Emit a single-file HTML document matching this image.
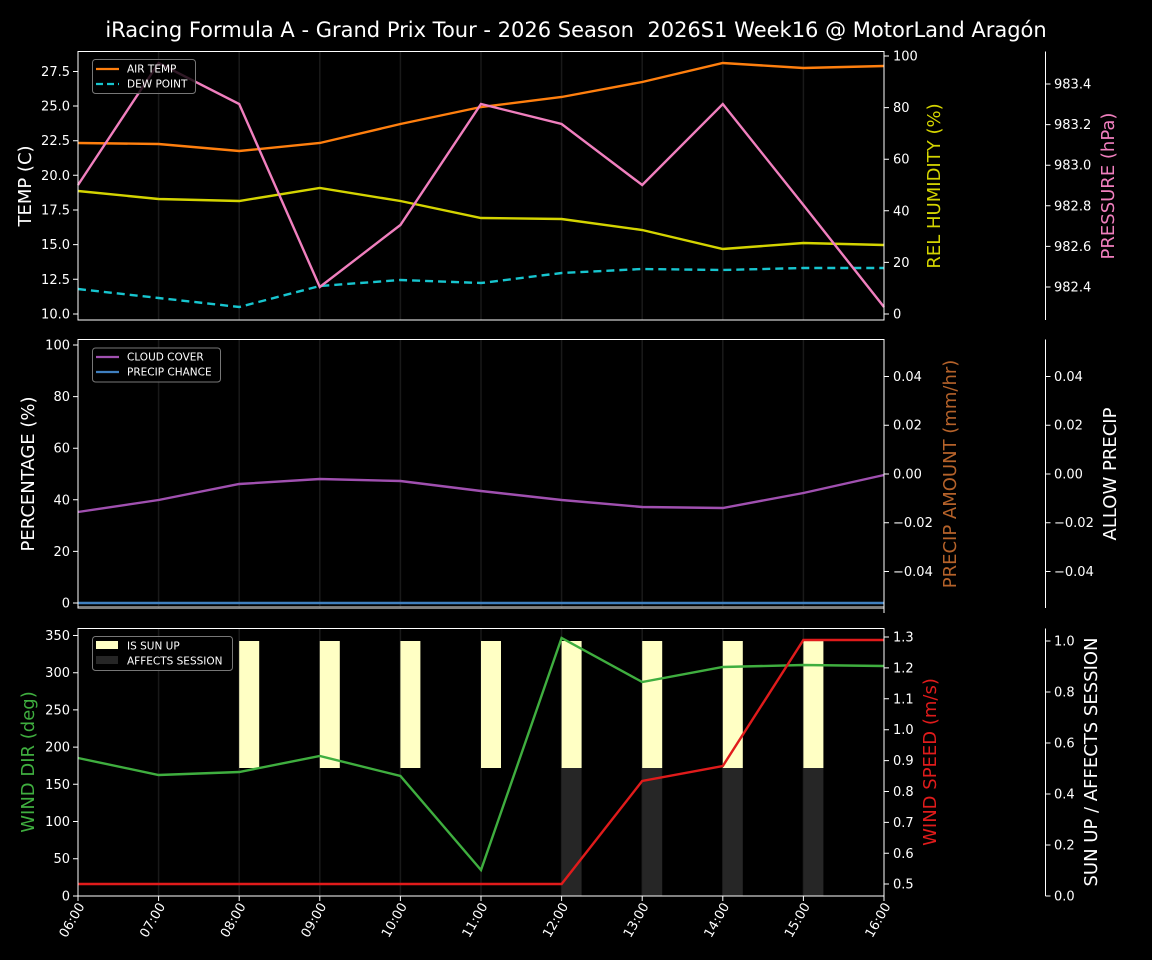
<!DOCTYPE html>
<html><head><meta charset="utf-8"><style>
html,body{margin:0;padding:0;background:#000;}
svg{display:block;font-family:"DejaVu Sans","Liberation Sans",sans-serif;}
</style></head><body>
<svg width="1152" height="960" viewBox="0 0 1152 960" xmlns="http://www.w3.org/2000/svg">
<rect width="1152" height="960" fill="#000"/>
<text x="576" y="37" fill="#fff" font-size="21" text-anchor="middle" xml:space="preserve">iRacing Formula A - Grand Prix Tour - 2026 Season&#160; 2026S1 Week16 @ MotorLand Aragón</text>

<!-- grid lines -->
<g stroke="#2a2a2a" stroke-width="1.5" opacity="0.6">
<path d="M158.6 51V320M239.2 51V320M319.8 51V320M400.4 51V320M481 51V320M561.6 51V320M642.2 51V320M722.8 51V320M803.4 51V320"/>
<path d="M158.6 339V608M239.2 339V608M319.8 339V608M400.4 339V608M481 339V608M561.6 339V608M642.2 339V608M722.8 339V608M803.4 339V608"/>
<path d="M158.6 628V896M239.2 628V896M319.8 628V896M400.4 628V896M481 628V896M561.6 628V896M642.2 628V896M722.8 628V896M803.4 628V896"/>
</g>

<!-- PANEL 1 -->
<g fill="none" stroke-width="2.4">
<polyline stroke="#ff7f0e" points="78,143 158.6,144 239.2,151 319.8,143 400.4,124 481,107 561.6,97 642.2,82 722.8,63 803.4,68 884,66"/>
<polyline stroke="#d4d400" points="78,191 158.6,199 239.2,201 319.8,188 400.4,201 481,218 561.6,219 642.2,230 722.8,249 803.4,243 884,245"/>
<polyline stroke="#17c5cf" stroke-dasharray="8,5" points="78,289 158.6,298 239.2,307 319.8,286 400.4,280 481,283 561.6,273 642.2,269 722.8,270 803.4,268 884,268"/>
<polyline stroke="#f07fbe" points="78,185 158.6,63 239.2,104 319.8,287 400.4,225 481,104 561.6,124 642.2,185 722.8,104 803.4,205 884,307"/>
</g>
<rect x="78" y="51.5" width="806" height="268.5" fill="none" stroke="#fff" stroke-width="1"/>
<g stroke="#fff" stroke-width="1">
<path d="M73 71.5H78M73 106H78M73 140.7H78M73 175.3H78M73 210H78M73 244.6H78M73 279.3H78M73 314H78"/>
<path d="M884 56H889M884 107.6H889M884 159.2H889M884 210.8H889M884 262.4H889M884 314H889"/>
<path d="M1045.5 51.5V320M1045.5 84H1050.5M1045.5 124.6H1050.5M1045.5 165.2H1050.5M1045.5 205.8H1050.5M1045.5 246.4H1050.5M1045.5 287H1050.5"/>
</g>
<g fill="#fff" font-size="13" text-anchor="end">
<text x="70" y="76">27.5</text><text x="70" y="110.5">25.0</text><text x="70" y="145.2">22.5</text><text x="70" y="179.8">20.0</text><text x="70" y="214.5">17.5</text><text x="70" y="249.1">15.0</text><text x="70" y="283.8">12.5</text><text x="70" y="318.5">10.0</text>
</g>
<g fill="#fff" font-size="13">
<text x="893" y="60.5">100</text><text x="893" y="112">80</text><text x="893" y="163.7">60</text><text x="893" y="215.3">40</text><text x="893" y="266.9">20</text><text x="893" y="318.5">0</text>
<text x="1054" y="88.5">983.4</text><text x="1054" y="129">983.2</text><text x="1054" y="169.7">983.0</text><text x="1054" y="210.3">982.8</text><text x="1054" y="250.9">982.6</text><text x="1054" y="291.5">982.4</text>
</g>
<text transform="translate(31,186) rotate(-90)" fill="#fff" font-size="18" text-anchor="middle">TEMP (C)</text>
<text transform="translate(940,186) rotate(-90)" fill="#d4d400" font-size="18" text-anchor="middle">REL HUMIDITY (%)</text>
<text transform="translate(1114,186) rotate(-90)" fill="#f07fbe" font-size="18" text-anchor="middle">PRESSURE (hPa)</text>
<rect x="92.5" y="59.5" width="103" height="34" rx="3" fill="#000" fill-opacity="0.8" stroke="#777"/>
<path d="M96 69H119" stroke="#ff7f0e" stroke-width="2.2"/>
<path d="M96 84H119" stroke="#17c5cf" stroke-width="2.2" stroke-dasharray="7,4"/>
<g fill="#fff" font-size="10.5"><text x="127" y="72.5">AIR TEMP</text><text x="127" y="87.5">DEW POINT</text></g>

<!-- PANEL 2 -->
<polyline fill="none" stroke="#a050b0" stroke-width="2.4" points="78,512 158.6,500 239.2,484 319.8,479 400.4,481 481,491 561.6,500 642.2,507 722.8,508 803.4,493 884,475"/>
<path d="M78 603H884" stroke="#3f7fbf" stroke-width="2.4"/>
<path d="M78 606.5H884" stroke="#777" stroke-width="1"/>
<rect x="78" y="339.5" width="806" height="268.5" fill="none" stroke="#fff" stroke-width="1"/>
<g stroke="#fff" stroke-width="1">
<path d="M73 345H78M73 396.6H78M73 448.2H78M73 499.8H78M73 551.4H78M73 603H78"/>
<path d="M884 376.5H889M884 425.2H889M884 474H889M884 522.7H889M884 571.5H889M884 608V613"/>
<path d="M1045.5 339.5V608M1045.5 376.5H1050.5M1045.5 425.2H1050.5M1045.5 474H1050.5M1045.5 522.7H1050.5M1045.5 571.5H1050.5"/>
</g>
<g fill="#fff" font-size="13" text-anchor="end">
<text x="70" y="349.5">100</text><text x="70" y="401">80</text><text x="70" y="452.7">60</text><text x="70" y="504.3">40</text><text x="70" y="555.9">20</text><text x="70" y="607.5">0</text>
</g>
<g fill="#fff" font-size="13">
<text x="893" y="381">0.04</text><text x="893" y="429.7">0.02</text><text x="893" y="478.5">0.00</text><text x="893" y="527.2">−0.02</text><text x="893" y="576">−0.04</text>
<text x="1054" y="381">0.04</text><text x="1054" y="429.7">0.02</text><text x="1054" y="478.5">0.00</text><text x="1054" y="527.2">−0.02</text><text x="1054" y="576">−0.04</text>
</g>
<text transform="translate(34,474) rotate(-90)" fill="#fff" font-size="18" text-anchor="middle">PERCENTAGE (%)</text>
<text transform="translate(956,474) rotate(-90)" fill="#b5622a" font-size="18" text-anchor="middle">PRECIP AMOUNT (mm/hr)</text>
<text transform="translate(1116,474) rotate(-90)" fill="#fff" font-size="18" text-anchor="middle">ALLOW PRECIP</text>
<rect x="92.5" y="348" width="128" height="34" rx="3" fill="#000" fill-opacity="0.8" stroke="#777"/>
<path d="M96 357H119" stroke="#a050b0" stroke-width="2.2"/>
<path d="M96 372H119" stroke="#3f7fbf" stroke-width="2.2"/>
<g fill="#fff" font-size="10.5"><text x="127" y="360.5">CLOUD COVER</text><text x="127" y="375.5">PRECIP CHANCE</text></g>

<!-- PANEL 3 -->
<g fill="#ffffc4">
<rect x="239.2" y="641" width="20" height="127"/><rect x="319.8" y="641" width="20" height="127"/><rect x="400.4" y="641" width="20" height="127"/><rect x="481" y="641" width="20" height="127"/><rect x="561.6" y="641" width="20" height="127"/><rect x="642.2" y="641" width="20" height="127"/><rect x="722.8" y="641" width="20" height="127"/><rect x="803.4" y="641" width="20" height="127"/>
</g>
<g fill="#262626">
<rect x="561.6" y="768" width="20" height="128"/><rect x="642.2" y="768" width="20" height="128"/><rect x="722.8" y="768" width="20" height="128"/><rect x="803.4" y="768" width="20" height="128"/>
</g>
<polyline fill="none" stroke="#3fae3f" stroke-width="2.4" points="78,758 158.6,775 239.2,772 319.8,756 400.4,776 481,870 561.6,638 642.2,682 722.8,667 803.4,665 884,666"/>
<polyline fill="none" stroke="#e01b1b" stroke-width="2.4" points="78,884 561.6,884 642.2,781 722.8,766 803.4,640 884,640"/>
<rect x="78" y="628.5" width="806" height="267.5" fill="none" stroke="#fff" stroke-width="1"/>
<g stroke="#fff" stroke-width="1">
<path d="M73 635.5H78M73 672.7H78M73 709.9H78M73 747.1H78M73 784.3H78M73 821.5H78M73 858.7H78M73 896H78"/>
<path d="M884 637H889M884 667.9H889M884 698.8H889M884 729.7H889M884 760.6H889M884 791.5H889M884 822.4H889M884 853.3H889M884 884H889"/>
<path d="M1045.5 628.5V896M1045.5 641H1050.5M1045.5 692H1050.5M1045.5 743H1050.5M1045.5 794H1050.5M1045.5 845H1050.5M1045.5 896H1050.5"/>
<path d="M78 896V901M158.6 896V901M239.2 896V901M319.8 896V901M400.4 896V901M481 896V901M561.6 896V901M642.2 896V901M722.8 896V901M803.4 896V901M884 896V901"/>
</g>
<g fill="#fff" font-size="13" text-anchor="end">
<text x="70" y="640">350</text><text x="70" y="677.2">300</text><text x="70" y="714.4">250</text><text x="70" y="751.6">200</text><text x="70" y="788.8">150</text><text x="70" y="826">100</text><text x="70" y="863.2">50</text><text x="70" y="900.5">0</text>
</g>
<g fill="#fff" font-size="13">
<text x="893" y="641.5">1.3</text><text x="893" y="672.4">1.2</text><text x="893" y="703.3">1.1</text><text x="893" y="734.2">1.0</text><text x="893" y="765.1">0.9</text><text x="893" y="796">0.8</text><text x="893" y="826.9">0.7</text><text x="893" y="857.8">0.6</text><text x="893" y="888.5">0.5</text>
<text x="1054" y="645.5">1.0</text><text x="1054" y="696.5">0.8</text><text x="1054" y="747.5">0.6</text><text x="1054" y="798.5">0.4</text><text x="1054" y="849.5">0.2</text><text x="1054" y="900.5">0.0</text>
</g>
<text transform="translate(34,762) rotate(-90)" fill="#3fae3f" font-size="18" text-anchor="middle">WIND DIR (deg)</text>
<text transform="translate(936,762) rotate(-90)" fill="#e01b1b" font-size="18" text-anchor="middle">WIND SPEED (m/s)</text>
<text transform="translate(1097,762) rotate(-90)" fill="#fff" font-size="18" text-anchor="middle">SUN UP / AFFECTS SESSION</text>
<rect x="92.5" y="636.5" width="140" height="34" rx="3" fill="#000" fill-opacity="0.8" stroke="#777"/>
<rect x="96" y="641" width="22" height="8" fill="#ffffc4"/>
<rect x="96" y="656" width="22" height="8" fill="#262626"/>
<g fill="#fff" font-size="10.5"><text x="127" y="649.5">IS SUN UP</text><text x="127" y="664.5">AFFECTS SESSION</text></g>

<!-- x tick labels -->
<g fill="#fff" font-size="13" text-anchor="end">
<text transform="translate(85,906) rotate(-60)">06:00</text>
<text transform="translate(165.6,906) rotate(-60)">07:00</text>
<text transform="translate(246.2,906) rotate(-60)">08:00</text>
<text transform="translate(326.8,906) rotate(-60)">09:00</text>
<text transform="translate(407.4,906) rotate(-60)">10:00</text>
<text transform="translate(488,906) rotate(-60)">11:00</text>
<text transform="translate(568.6,906) rotate(-60)">12:00</text>
<text transform="translate(649.2,906) rotate(-60)">13:00</text>
<text transform="translate(729.8,906) rotate(-60)">14:00</text>
<text transform="translate(810.4,906) rotate(-60)">15:00</text>
<text transform="translate(891,906) rotate(-60)">16:00</text>
</g>
</svg>
</body></html>
